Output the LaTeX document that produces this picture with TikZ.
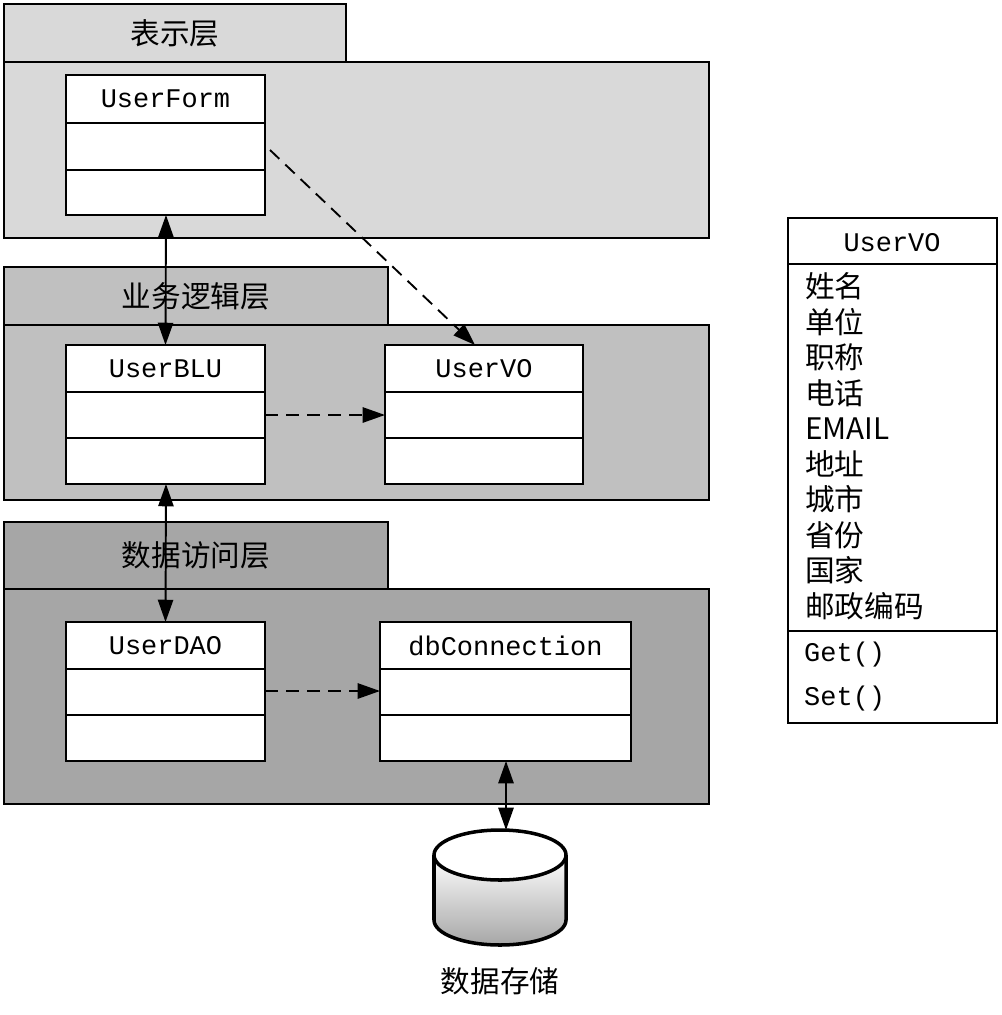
\documentclass[tikz,border=0pt]{standalone}
\usepackage{fontspec}
\setmainfont{Liberation Mono}
\newfontfamily\cjk{Noto Sans CJK SC}[Scale=1.1]
\usetikzlibrary{arrows.meta,shapes.geometric}
\definecolor{layerA}{HTML}{D9D9D9}
\definecolor{layerB}{HTML}{C0C0C0}
\definecolor{layerC}{HTML}{A6A6A6}
\tikzset{
  box/.style={draw, line width=1.5pt},
  txt/.style={font=\fontsize{23}{26}\selectfont, inner sep=0pt},
  link/.style={line width=1.6pt, {Triangle[length=19pt,width=13pt]}-{Triangle[length=19pt,width=13pt]}},
  dep/.style={line width=1.6pt, dashed, dash pattern=on 11pt off 7pt, -{Triangle[length=19pt,width=13pt]}}
}
% class box: name, x1, y1, x2, y2, first line, second line, label
\newcommand{\classbox}[8]{
  \draw[box, fill=white] (#2,#3) rectangle (#4,#5);
  \draw[box] (#2,#6) -- (#4,#6);
  \draw[box] (#2,#7) -- (#4,#7);
  \node[txt] (#1) at ({(#2+#4)/2},{(#3+#6)/2}) {#8};
  \coordinate (#1top) at ({(#2+#4)/2},#3);
}
\begin{document}
\begin{tikzpicture}[x=0.03cm, y=-0.03cm]
  \useasboundingbox (0,0) rectangle (1001,1015);

  % layers
  \draw[box, fill=layerA] (4,4) rectangle (346,62);
  \draw[box, fill=layerA] (4,62) rectangle (709,238);
  \node[txt] (layer1) at (175,33) {\cjk 表示层};
  \draw[box, fill=layerB] (4,267) rectangle (388,325);
  \draw[box, fill=layerB] (4,325) rectangle (709,500);
  \node[txt] (layer2) at (196,296) {\cjk 业务逻辑层};
  \draw[box, fill=layerC] (4,522) rectangle (388,589);
  \draw[box, fill=layerC] (4,589) rectangle (709,804);
  \node[txt] (layer3) at (196,555) {\cjk 数据访问层};

  % classes
  \classbox{form}{66}{75}{265}{215}{123}{170}{UserForm}
  \classbox{blu}{66}{345}{265}{484}{392}{438}{UserBLU}
  \classbox{vo}{385}{345}{583}{484}{392}{438}{UserVO}
  \classbox{dao}{66}{622}{265}{761}{669}{715}{UserDAO}
  \classbox{conn}{380}{622}{631}{761}{669}{715}{dbConnection}

  \coordinate (formB) at (166,215);
  \coordinate (formR) at (270,150);
  \coordinate (bluB) at (166,484);
  \coordinate (bluR) at (265,415);
  \coordinate (voL) at (385,415);
  \coordinate (voT) at (475,345);
  \coordinate (daoR) at (265,691);
  \coordinate (connL) at (380,691);
  \coordinate (connB) at (506,761);

  % storage
  \draw[box, line width=3pt, top color=white, bottom color=gray!70] (434,855) -- (434,920) arc[start angle=180, end angle=0, x radius=66, y radius=25] -- (566,855);
  \draw[box, line width=3pt, fill=white] (500,855) ellipse[x radius=66, y radius=25];
  \coordinate (dbT) at (506,830);
  \node[txt] (db) at (500,981) {\cjk 数据存储};

  % connectors
  \draw[link] (formB) -- (blutop);
  \draw[link] (bluB) -- (daotop);
  \draw[link] (connB) -- (dbT);
  \draw[dep] (formR) -- (voT);
  \draw[dep] (bluR) -- (voL);
  \draw[dep] (daoR) -- (connL);

  % UserVO detail
  \draw[box, fill=white] (788,218) rectangle (997,723);
  \draw[box] (788,264) -- (997,264);
  \draw[box] (788,631) -- (997,631);
  \node[txt] (vodetail) at (892,243) {UserVO};
  \foreach \t [count=\i] in {姓名,单位,职称,电话,EMAIL,地址,城市,省份,国家,邮政编码}
    \node[txt, anchor=west] (attr\i) at (805,{251+35.5*\i}) {\cjk \t};
  \node[txt, anchor=west] (get) at (804,655) {Get()};
  \node[txt, anchor=west] (set) at (804,699) {Set()};
\end{tikzpicture}
\end{document}
